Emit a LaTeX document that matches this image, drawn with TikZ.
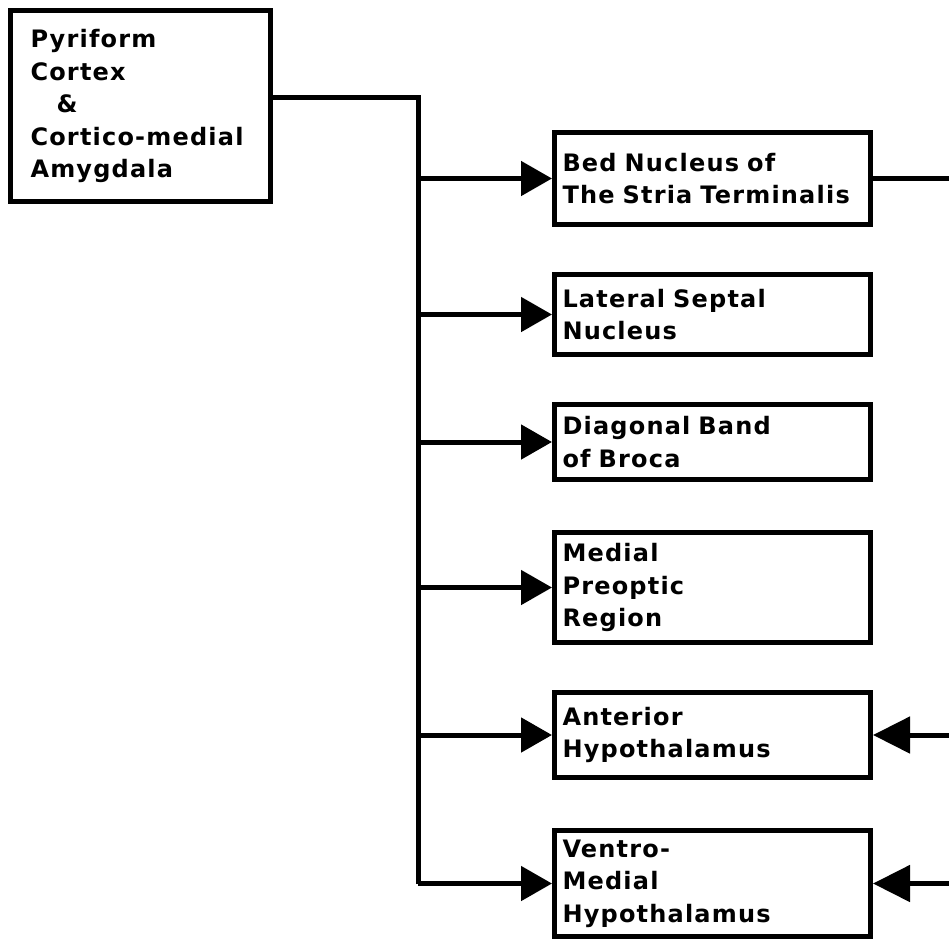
\documentclass[tikz,border=0pt]{standalone}
\usepackage{fontspec}
\setmainfont{DejaVu Sans}[LetterSpace=5]
\usetikzlibrary{arrows.meta}
\begin{document}
\begin{tikzpicture}[x=1pt,y=-1pt,
  box/.style={draw, line width=5pt, rectangle, anchor=north west,
    inner xsep=8pt, inner ysep=0pt, align=left,
    font=\bfseries\fontsize{24}{32.5}\selectfont},
  wire/.style={line width=5pt},
  fwd/.style={wire, -{Triangle[length=31pt, width=34pt]}},
  back/.style={wire, -{Triangle[length=37pt, width=36pt]}}]
\useasboundingbox (0,0) rectangle (949,938);
\node[box, minimum width=260, minimum height=191, text width=220, inner xsep=20pt] (src) at (8,8)
  {Pyriform\\Cortex\\\hspace{26pt}\&\\Cortico-medial\\Amygdala};
\node[box, minimum width=316, minimum height=92, text width=300] (b1) at (552,130)
  {Bed Nucleus of\\The Stria Terminalis};
\node[box, minimum width=316, minimum height=80, text width=300] (b2) at (552,272)
  {Lateral Septal\\Nucleus};
\node[box, minimum width=316, minimum height=75, text width=300] (b3) at (552,402)
  {Diagonal Band\\of Broca};
\node[box, minimum width=316, minimum height=110, text width=300] (b4) at (552,530)
  {Medial\\Preoptic\\Region};
\node[box, minimum width=316, minimum height=85, text width=300] (b5) at (552,690)
  {Anterior\\Hypothalamus};
\node[box, minimum width=316, minimum height=106, text width=300] (b6) at (552,828)
  {Ventro-\\Medial\\Hypothalamus};
\coordinate (t) at (418,97);
\coordinate (edge) at (949,0);
\draw[wire] (src.east |- t) -| (t |- b6.west);
\draw[fwd] (t |- b6.west) -- (b6.west);
\foreach \b in {b1,b2,b3,b4,b5}
  \draw[fwd] (t |- \b.west) -- (\b.west);
\draw[wire] (b1.east) -- (b1.east -| edge);
\draw[back] (b5.east -| edge) -- (b5.east);
\draw[back] (b6.east -| edge) -- (b6.east);
\end{tikzpicture}
\end{document}
